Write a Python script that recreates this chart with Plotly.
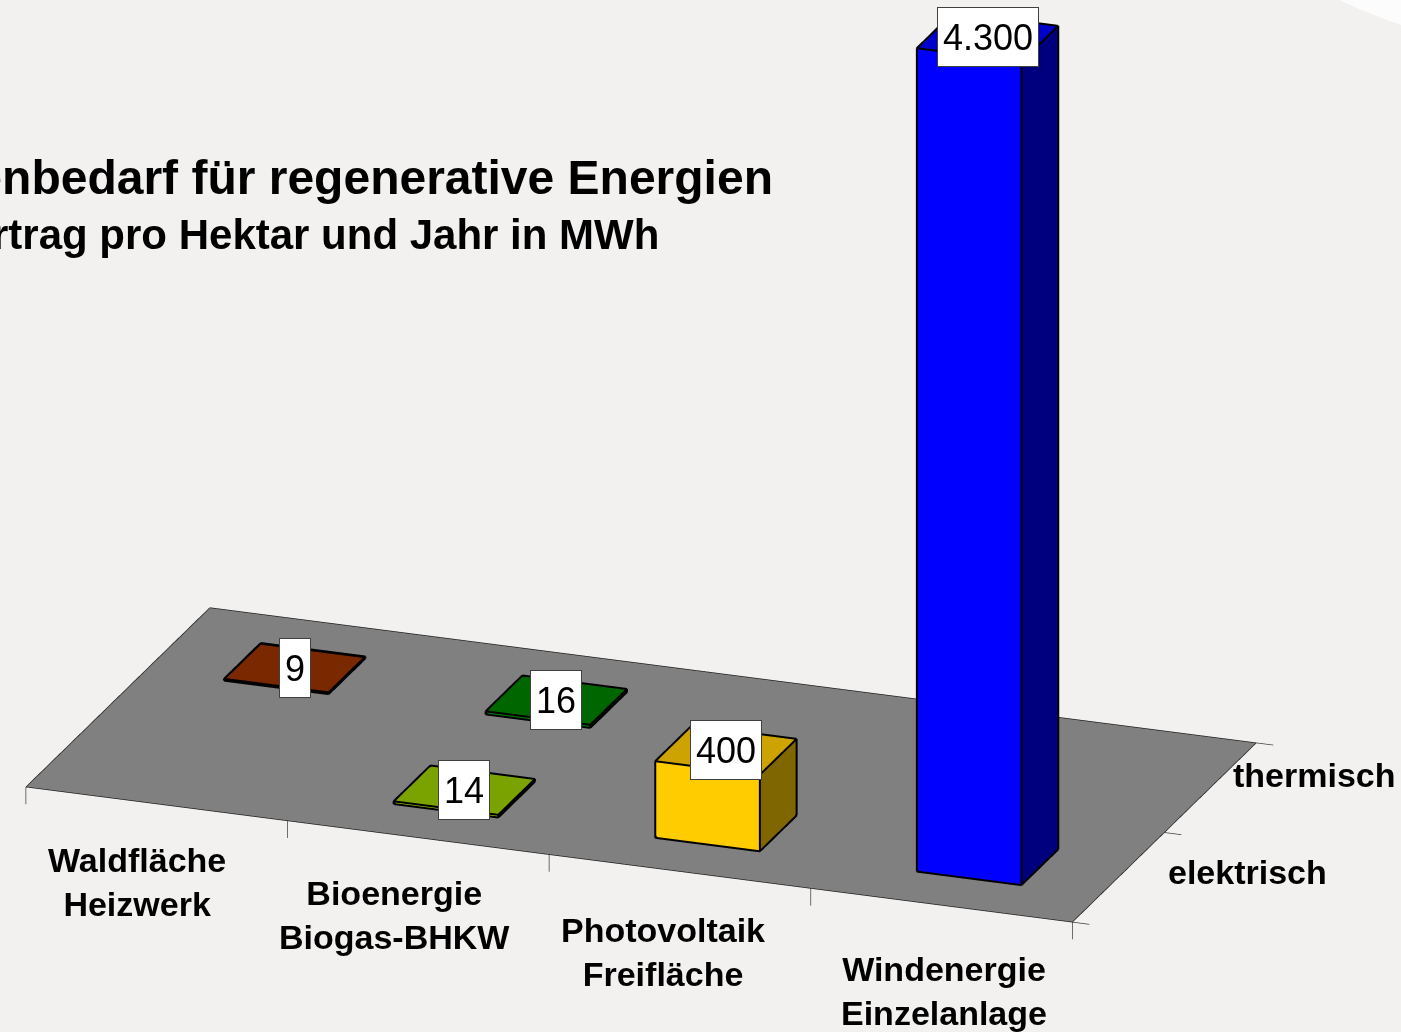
import numpy as np
import plotly.graph_objects as go

# categories (front axis) and series (depth axis)
categories = ["Waldfläche<br>Heizwerk", "Bioenergie<br>Biogas-BHKW",
              "Photovoltaik<br>Freifläche", "Windenergie<br>Einzelanlage"]
series = ["elektrisch", "thermisch"]

# one entry per bar
bar_category = [0, 1, 1, 2, 3]
bar_series = [1, 0, 1, 0, 0]
bar_values = [9, 14, 16, 400, 4300]
bar_labels = ["9", "14", "16", "400", "4.300"]
bar_colors = ["#993300", "#99CC00", "#008000", "#FFCC00", "#0000FF"]

title_text = "Flächenbedarf für regenerative Energien"
subtitle_text = "Ertrag pro Hektar und Jahr in MWh"

BG = "#F2F1EF"
FLOOR = "#808080"
HALF = 0.2  # half bar width in category units
FONT = "Arial, Liberation Sans, sans-serif"

# pixel nudges for the axis labels (the original is drawn in perspective)
cat_label_shift = [(-20, -78), (-24, -77), (-17, -81), (2, -86)]
ser_label_shift = [(48, 5), (21, 13)]

xr, yr, zr = [-0.1, 4.2], [-0.1, 2.1], [-250, 4350]
zoom = 2.32
asp = dict(x=1.0 * zoom, y=0.494 * zoom, z=0.787 * zoom)
direction = np.array([0.320, -0.879, 0.355])
look = np.array([2.227, 1.0, 1340.0])


def to_box(p):
    # data units -> normalised scene coordinates
    return np.array([
        (p[0] - sum(xr) / 2) / (xr[1] - xr[0]) * asp["x"],
        (p[1] - sum(yr) / 2) / (yr[1] - yr[0]) * asp["y"],
        (p[2] - sum(zr) / 2) / (zr[1] - zr[0]) * asp["z"],
    ])


# small shift of the outlines towards the camera so they are not hidden by faces
eps = 0.01
nudge = eps * direction * np.array([(xr[1] - xr[0]) / asp["x"],
                                    (yr[1] - yr[0]) / asp["y"],
                                    (zr[1] - zr[0]) / asp["z"]])


def shade(hex_color, f):
    h = hex_color.lstrip("#")
    r, g, b = (int(h[i:i + 2], 16) for i in (0, 2, 4))
    return "#%02X%02X%02X" % (int(r * f), int(g * f), int(b * f))


def seg_lists(points):
    xs, ys, zs = [], [], []
    for a, b in points:
        xs += [a[0] + nudge[0], b[0] + nudge[0], None]
        ys += [a[1] + nudge[1], b[1] + nudge[1], None]
        zs += [a[2] + nudge[2], b[2] + nudge[2], None]
    return xs, ys, zs


flat = dict(ambient=1, diffuse=0, specular=0, roughness=1, fresnel=0)
fig = go.Figure()

n_cat = len(categories)
n_ser = len(series)

# floor
fig.add_trace(go.Mesh3d(
    x=[0, n_cat, n_cat, 0], y=[0, 0, n_ser, n_ser], z=[0, 0, 0, 0],
    i=[0, 0], j=[1, 2], k=[2, 3],
    color=FLOOR, flatshading=True, lighting=flat,
    hoverinfo="skip", showscale=False,
))
corners = [(0, 0, 0), (n_cat, 0, 0), (n_cat, n_ser, 0), (0, n_ser, 0)]
fx, fy, fz = seg_lists([(corners[q], corners[(q + 1) % 4]) for q in range(4)])
fig.add_trace(go.Scatter3d(x=fx, y=fy, z=fz, mode="lines",
                           line=dict(color="#202020", width=1.5), hoverinfo="skip"))

# tick marks
ticks = [((b, 0, 0), (b, 0, -90)) for b in range(n_cat + 1)]
ticks += [((n_cat, s, 0), (n_cat + 0.065, s, 0)) for s in range(n_ser + 1)]
tx, ty, tz = seg_lists(ticks)
fig.add_trace(go.Scatter3d(x=tx, y=ty, z=tz, mode="lines",
                           line=dict(color="#404040", width=1.5), hoverinfo="skip"))

# bars
faces_i = [0, 0, 4, 4, 0, 0, 3, 3, 0, 0, 1, 1]
faces_j = [1, 2, 5, 6, 1, 5, 2, 6, 3, 7, 2, 6]
faces_k = [2, 3, 6, 7, 5, 4, 6, 7, 7, 4, 6, 5]
edges = [(0, 1), (1, 2), (2, 3), (3, 0), (4, 5), (5, 6), (6, 7), (7, 4),
         (0, 4), (1, 5), (2, 6), (3, 7)]
bar_edges = []
for c, s, v, col in zip(bar_category, bar_series, bar_values, bar_colors):
    x0, x1 = c + 0.5 - HALF, c + 0.5 + HALF
    y0, y1 = s + 0.5 - HALF, s + 0.5 + HALF
    vx = [x0, x1, x1, x0, x0, x1, x1, x0]
    vy = [y0, y0, y1, y1, y0, y0, y1, y1]
    vz = [0, 0, 0, 0, v, v, v, v]
    top, side, front = shade(col, 0.8), shade(col, 0.5), col
    fc = [side, side, top, top, front, front, side, side, side, side, side, side]
    fig.add_trace(go.Mesh3d(
        x=vx, y=vy, z=vz, i=faces_i, j=faces_j, k=faces_k,
        facecolor=fc, flatshading=True, lighting=flat,
        hoverinfo="skip", showscale=False,
    ))
    for a, b in edges:
        bar_edges.append(((vx[a], vy[a], vz[a]), (vx[b], vy[b], vz[b])))
ex, ey, ez = seg_lists(bar_edges)
fig.add_trace(go.Scatter3d(x=ex, y=ey, z=ez, mode="lines",
                           line=dict(color="black", width=4), hoverinfo="skip"))

# scene annotations
annotations = []
for c, s, v, lab in zip(bar_category, bar_series, bar_values, bar_labels):
    annotations.append(dict(
        x=c + 0.5, y=s + 0.5, z=v, text=lab, showarrow=False,
        xanchor="center", yanchor="middle", height=48,
        font=dict(family=FONT, size=36, color="black"),
        bgcolor="white", bordercolor="#404040", borderwidth=1, borderpad=5,
    ))
for c, name in enumerate(categories):
    dx, dy = cat_label_shift[c]
    annotations.append(dict(
        x=c + 0.5, y=0, z=0, text="<b>%s</b>" % name, showarrow=False,
        xanchor="center", yanchor="middle", xshift=dx, yshift=dy,
        font=dict(family=FONT, size=34, color="black"),
    ))
for s, name in enumerate(series):
    dx, dy = ser_label_shift[s]
    annotations.append(dict(
        x=n_cat, y=s + 0.5, z=0, text="<b>%s</b>" % name, showarrow=False,
        xanchor="left", yanchor="middle", xshift=dx, yshift=dy,
        font=dict(family=FONT, size=34, color="black"),
    ))

center = to_box(look)
eye = center + 3.0 * direction

noax = dict(visible=False, showspikes=False)
fig.update_layout(
    width=1401, height=1032,
    paper_bgcolor=BG, plot_bgcolor=BG,
    margin=dict(l=0, r=0, t=0, b=0),
    showlegend=False,
    scene=dict(
        domain=dict(x=[0, 1], y=[0, 1]),
        bgcolor=BG,
        xaxis=dict(range=xr, **noax),
        yaxis=dict(range=yr, **noax),
        zaxis=dict(range=zr, **noax),
        aspectmode="manual",
        aspectratio=asp,
        camera=dict(
            eye=dict(x=eye[0], y=eye[1], z=eye[2]),
            center=dict(x=center[0], y=center[1], z=center[2]),
            up=dict(x=0, y=0, z=1),
            projection=dict(type="orthographic"),
        ),
        annotations=annotations,
    ),
    shapes=[dict(type="circle", xref="paper", yref="paper",
                 x0=(1560 - 501) / 1401, x1=(1560 + 501) / 1401,
                 y0=1 + (450 - 501) / 1032, y1=1 + (450 + 501) / 1032,
                 fillcolor="#FCFCFC", line=dict(width=0), layer="above")],
    annotations=[
        dict(xref="paper", yref="paper", x=311 / 1401, y=1 - 178 / 1032,
             xanchor="center", yanchor="middle",
             text="<b>%s</b>" % title_text, showarrow=False,
             font=dict(family=FONT, size=48, color="black")),
        dict(xref="paper", yref="paper", x=311 / 1401, y=1 - 235 / 1032,
             xanchor="center", yanchor="middle",
             text="<b>%s</b>" % subtitle_text, showarrow=False,
             font=dict(family=FONT, size=42, color="black")),
    ],
)

fig.write_html("out.html", config={"displayModeBar": False},
               post_script="document.body.style.margin='0px';")
